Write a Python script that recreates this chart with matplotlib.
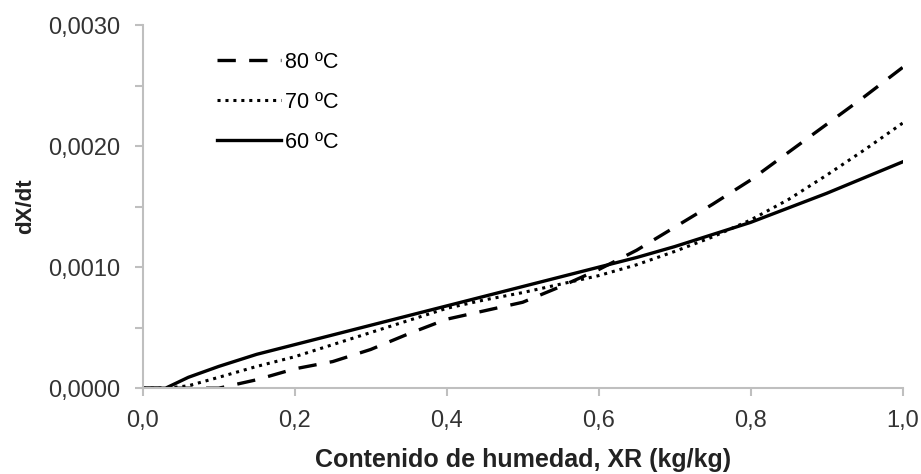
import matplotlib.pyplot as plt
from matplotlib.ticker import MultipleLocator, FuncFormatter

plt.rcParams['font.family'] = ['Liberation Sans', 'DejaVu Sans']

# moisture content XR (kg/kg)
x_80 = [0.0, 0.05, 0.10, 0.15, 0.20, 0.25, 0.30, 0.35, 0.40, 0.45, 0.50, 0.55, 0.60, 0.65, 0.70, 0.75, 0.80, 0.85, 0.90, 0.95, 1.0]
y_80 = [0.0, 0.0, 0.0, 0.00007, 0.00016, 0.00022, 0.00032, 0.00045, 0.00057, 0.00064, 0.00071, 0.00084, 0.00098, 0.00114, 0.00133, 0.00152, 0.00172, 0.00195, 0.00218, 0.00241, 0.00265]

x_70 = [0.0, 0.03, 0.06, 0.10, 0.15, 0.20, 0.25, 0.30, 0.35, 0.40, 0.45, 0.50, 0.55, 0.60, 0.65, 0.70, 0.75, 0.80, 0.85, 0.90, 0.95, 1.0]
y_70 = [0.0, 0.0, 0.00002, 0.00009, 0.00018, 0.00026, 0.00036, 0.00046, 0.00056, 0.00066, 0.00073, 0.00079, 0.00086, 0.00093, 0.00102, 0.00113, 0.00125, 0.00139, 0.00156, 0.00176, 0.00197, 0.00219]

x_60 = [0.0, 0.03, 0.06, 0.10, 0.15, 0.20, 0.25, 0.30, 0.35, 0.40, 0.45, 0.50, 0.55, 0.60, 0.65, 0.70, 0.75, 0.80, 0.85, 0.90, 0.95, 1.0]
y_60 = [0.0, 0.0, 0.00009, 0.00018, 0.00028, 0.00036, 0.00044, 0.00052, 0.00060, 0.00068, 0.00076, 0.00084, 0.00092, 0.00100, 0.00108, 0.00117, 0.00127, 0.00137, 0.00149, 0.00161, 0.00174, 0.00187]

fig, ax = plt.subplots(figsize=(9.21, 4.74), dpi=100)
fig.subplots_adjust(left=0.155, right=0.98, top=0.947, bottom=0.181)

ax.plot(x_80, y_80, color='black', lw=2.4, linestyle=(0, (5.5, 4)), label='80 ºC')
ax.plot(x_70, y_70, color='black', lw=2.2, linestyle=(0, (1, 1.6)), label='70 ºC')
ax.plot(x_60, y_60, color='black', lw=2.4, linestyle='-', label='60 ºC')

ax.set_xlim(0, 1.0)
ax.set_ylim(0, 0.003)
ax.xaxis.set_major_locator(MultipleLocator(0.2))
ax.yaxis.set_major_locator(MultipleLocator(0.001))
ax.yaxis.set_minor_locator(MultipleLocator(0.0005))
ax.xaxis.set_major_formatter(FuncFormatter(lambda v, p: f'{v:.1f}'.replace('.', ',')))
ax.yaxis.set_major_formatter(FuncFormatter(lambda v, p: f'{v:.4f}'.replace('.', ',')))

for s in ['top', 'right']:
    ax.spines[s].set_visible(False)
for s in ['left', 'bottom']:
    ax.spines[s].set_color('#bfbfbf')
    ax.spines[s].set_linewidth(1.5)
ax.tick_params(which='both', direction='out', color='#bfbfbf', width=1.5, length=5.5, labelsize=17, labelcolor='#333333')
ax.tick_params(axis='x', pad=10)
ax.tick_params(axis='y', pad=11)

ax.set_xlabel('Contenido de humedad, XR (kg/kg)', fontsize=18, fontweight='bold', color='#222222', labelpad=12)
ax.set_ylabel('dX/dt', fontsize=16, fontweight='bold', color='#222222', labelpad=8)

ax.legend(loc='upper left', bbox_to_anchor=(0.072, 0.98), frameon=False, fontsize=15.5,
          handlelength=3.0, handletextpad=0.15, labelspacing=0.88)

fig.savefig('out.png')
